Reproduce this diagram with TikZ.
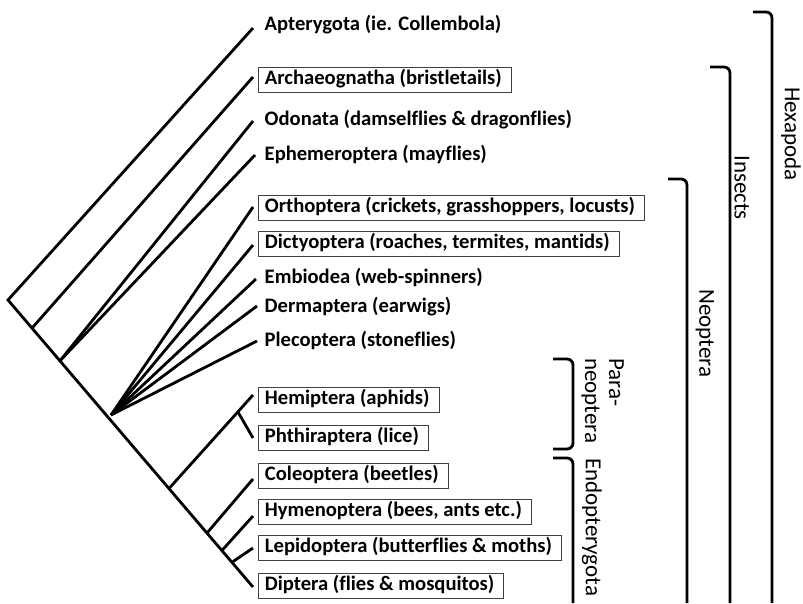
\documentclass[tikz,border=0pt]{standalone}
\usepackage{fontspec}
\setmainfont{Carlito}[Ligatures={NoCommon}]
\usetikzlibrary{calc}
\begin{document}
\begin{tikzpicture}[x=1pt,y=-1pt,
  br/.style={line width=2.8pt},
  hook/.style={line width=2.8pt, rounded corners=6pt},
  lab/.style={anchor=west, font=\bfseries\fontsize{20.6}{24}\selectfont, inner xsep=6.5pt, inner ysep=0pt, minimum height=25pt, text height=14pt, text depth=5pt},
  box/.style={lab, draw=black!75, line width=0.9pt, execute at end node={\hspace*{3pt}}},
  blab/.style={font=\fontsize{23}{24}\selectfont, rotate=-90, inner sep=0pt}]
\useasboundingbox (0,0) rectangle (803,603);
\fill[white] (0,0) rectangle (803,603);

% tree coordinates
\coordinate (root) at (8,300);
\coordinate (tip) at (253,587);
\coordinate (n2) at ($(root)!0.098!(tip)$);
\coordinate (n3) at ($(root)!0.212!(tip)$);
\coordinate (fan) at (111,415);
\coordinate (n5) at ($(root)!0.657!(tip)$);
\coordinate (n6) at ($(root)!0.812!(tip)$);
\coordinate (n7) at ($(root)!0.873!(tip)$);
\coordinate (n8) at ($(root)!0.914!(tip)$);

\coordinate (eApt) at (253,28);
\coordinate (eArc) at (253,77);
\coordinate (eOdo) at (253,121);
\coordinate (eEph) at (255,155);
\coordinate (eOrt) at (253,207);
\coordinate (eDic) at (253,245);
\coordinate (eEmb) at (256,279);
\coordinate (eDer) at (257,306);
\coordinate (ePle) at (257,341);
\coordinate (eHem) at (253,395);
\coordinate (p5) at ($(n5)!0.82!(eHem)$);
\coordinate (ePht) at (253,438);
\coordinate (eCol) at (253,479);
\coordinate (eHym) at (253,516);
\coordinate (eLep) at (253,548);

% branches
\draw[br] (eApt) -- (root) -- (tip);
\draw[br] (n2) -- (eArc);
\draw[br] (n3) -- (eOdo);
\draw[br] (n3) -- (eEph);
\draw[br] (fan) -- (eOrt);
\draw[br] (fan) -- (eDic);
\draw[br] (fan) -- (eEmb);
\draw[br] (fan) -- (eDer);
\draw[br] (fan) -- (ePle);
\draw[br] (n5) -- (eHem);
\draw[br] (p5) -- (ePht);
\draw[br] (n6) -- (eCol);
\draw[br] (n7) -- (eHym);
\draw[br] (n8) -- (eLep);

% labels
\node[lab] (apt) at (258,25.5) {Apterygota (ie. Collembola)};
\node[box] (arc) at (258,79.5) {Archaeognatha (bristletails)};
\node[lab] (odo) at (258,121) {Odonata (damselflies \& dragonflies)};
\node[lab] (eph) at (258,155.5) {Ephemeroptera (mayflies)};
\node[box] (ort) at (258,207.5) {Orthoptera (crickets, grasshoppers, locusts)};
\node[box] (dic) at (258,243.5) {Dictyoptera (roaches, termites, mantids)};
\node[lab] (emb) at (258,278.5) {Embiodea (web-spinners)};
\node[lab] (der) at (258,308) {Dermaptera (earwigs)};
\node[lab] (ple) at (258,342) {Plecoptera (stoneflies)};
\node[box] (hem) at (258,399.5) {Hemiptera (aphids)};
\node[box] (pht) at (258,437.5) {Phthiraptera (lice)};
\node[box] (col) at (258,476) {Coleoptera (beetles)};
\node[box] (hym) at (258,511.5) {Hymenoptera (bees, ants etc.)};
\node[box] (lep) at (258,548) {Lepidoptera (butterflies \& moths)};
\node[box] (dip) at (258,585.5) {Diptera (flies \& mosquitos)};

% brackets
\draw[hook] (753,12) -| (772,603);
\draw[hook] (710,67) -| (730,603);
\draw[hook] (668,179) -| (687,603);
\draw[hook] (553,359) -| (573,449) -- (553,449);
\draw[hook] (553,458) -| (573,603);

\node[blab, anchor=west] (hex) at (791,87) {Hexapoda};
\node[blab, anchor=west] (ins) at (742,155) {Insects};
\node[blab, anchor=west] (neo) at (705,289) {Neoptera};
\node[blab, anchor=north west, align=left] (par) at (624,358) {Para-\\neoptera};
\node[blab, anchor=west] (end) at (592,458) {Endopterygota};
\end{tikzpicture}
\end{document}
